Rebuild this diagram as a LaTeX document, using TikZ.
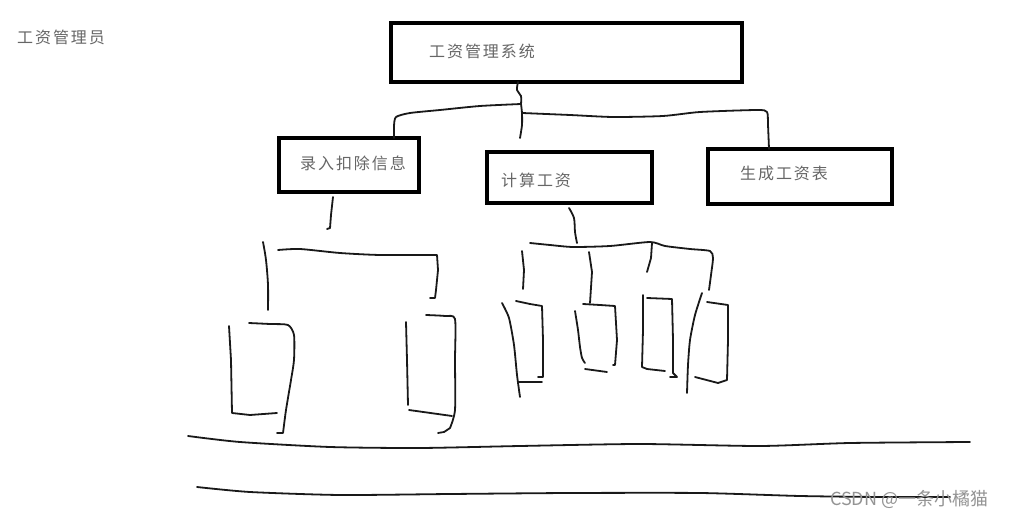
\documentclass[tikz,border=0pt]{standalone}
\usepackage{fontspec}
\newfontfamily\cjk[LetterSpace=12]{Noto Sans CJK SC}
\newfontfamily\wmfont{Noto Sans CJK SC}
\begin{document}
\begin{tikzpicture}[x=1pt,y=-1pt,
  box/.style={draw=black, line width=3.2pt, inner sep=0pt, outer sep=0pt, anchor=north west},
  lbl/.style={font=\cjk\fontsize{16}{16}\selectfont, text=black!60, anchor=west, inner sep=0pt},
  pen/.style={line width=1.8pt, line cap=round, line join=round, black!90},
  wm/.style={font=\wmfont\fontsize{18}{18}\selectfont, text=black!42, anchor=west, inner sep=0pt}]
\useasboundingbox (0,0) rectangle (1017,518);
\fill[white] (0,0) rectangle (1017,518);

% boxes
\node[box, minimum width=351pt, minimum height=59pt] (sys) at (391,23) {};
\node[box, minimum width=140pt, minimum height=54pt] (entry) at (279,138) {};
\node[box, minimum width=165pt, minimum height=51pt] (calc) at (487,152) {};
\node[box, minimum width=184pt, minimum height=55pt] (gen) at (708,149) {};

% labels
\node[lbl] (admin) at (17,37) {工资管理员};
\node[lbl] (sysL) at (429,51) {工资管理系统};
\node[lbl] (entryL) at (300,163) {录入扣除信息};
\node[lbl] (calcL) at (501,180) {计算工资};
\node[lbl] (genL) at (740,173) {生成工资表};

% top tree
\coordinate (j0) at (518,82);
\coordinate (j1) at (521,104);
\draw[pen] plot[smooth, tension=0.5] coordinates {(j0) (517,90) (521,96) (j1)};
\draw[pen] plot[smooth, tension=0.4] coordinates {(j1) (480,106) (440,110) (410,113) (396,117) (394,126) (394,138)};
\draw[pen] plot[smooth, tension=0.4] coordinates {(j1) (522,113) (522,125) (520,138)};
\draw[pen] plot[smooth, tension=0.4] coordinates {(522,113) (570,115) (613,117) (663,116) (700,112) (757,110) (767,112) (768,125) (769,149)};

% under entry box
\draw[pen] (333,197) -- (331,215) -- (330,228) -- (327,229);
\draw[pen] plot[smooth, tension=0.5] coordinates {(263,242) (266,260) (268,285) (268,310)};
\draw[pen] plot[smooth, tension=0.4] coordinates {(278,250) (300,249) (340,253) (380,255) (437,255)} -- (438,270) -- (436,290) -- (435,298) -- (430,298);
% box L1
\draw[pen] (229,326) -- (231,360) -- (232,413) -- (250,415) -- (277,413);
\draw[pen] plot[smooth, tension=0.4] coordinates {(249,323) (270,324) (288,325) (294,335) (294,360) (291,380) (286,410) (283,433)} -- (277,433);
% box L2
\draw[pen] (406,322) -- (407,360) -- (408,405);
\draw[pen] (409,410) -- (452,416);
\draw[pen] plot[smooth, tension=0.4] coordinates {(426,315) (445,316) (455,319) (455,360) (455,410) (450,428)} -- (444,432) -- (438,433);

% under calc box
\draw[pen] plot[smooth, tension=0.5] coordinates {(569,208) (574,218) (575,232) (577,243)};
\draw[pen] plot[smooth, tension=0.4] coordinates {(530,243) (550,245) (573,247) (610,246) (650,242) (665,246) (690,249) (710,251) (713,258) (711,275) (709,290)};
\draw[pen] (522,251) -- (524,270) -- (523,289);
\draw[pen] (589,252) -- (592,272) -- (590,303);
\draw[pen] (652,243) -- (651,258) -- (647,272);
% box C1
\draw[pen] plot[smooth, tension=0.4] coordinates {(502,303) (509,318) (514,345) (517,375) (520,397)};
\draw[pen] (516,301) -- (530,304) -- (542,306) -- (543,340) -- (543,377) -- (538,377);
\draw[pen] (518,382) -- (542,382);
% box C2
\draw[pen] plot[smooth, tension=0.4] coordinates {(575,311) (578,330) (580,347) (582,358) (585,363)};
\draw[pen] (585,369) -- (607,372);
\draw[pen] (583,304) -- (600,305) -- (615,306) -- (617,340) -- (615,365) -- (613,365);
% box C3
\draw[pen] (643,295) -- (643,330) -- (642,367) -- (647,369) -- (665,371);
\draw[pen] (647,298) -- (672,299) -- (673,340) -- (673,373) -- (677,377) -- (670,377);
% box C4
\draw[pen] plot[smooth, tension=0.4] coordinates {(702,293) (695,315) (690,340) (688,365) (687,393)};
\draw[pen] (707,302) -- (728,305) -- (728,340) -- (727,380) -- (718,383);
\draw[pen] (695,377) -- (718,383);

% ground lines
\draw[pen] plot[smooth, tension=0.4] coordinates {(188,436) (240,442) (330,447) (420,448) (520,446) (640,444) (760,446) (850,443) (970,442)};
\draw[pen] plot[smooth, tension=0.4] coordinates {(197,487) (250,492) (340,495) (450,494) (570,493) (700,493) (800,496) (880,497) (950,497)};

% watermark
\node[wm] (mark) at (830,499) {CSDN @一条小橘猫};
\end{tikzpicture}
\end{document}
